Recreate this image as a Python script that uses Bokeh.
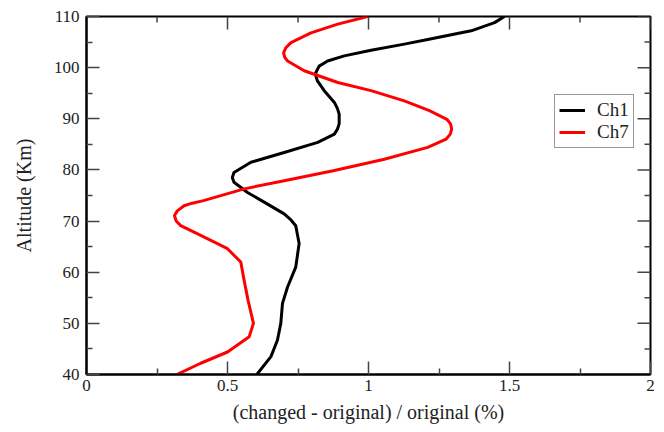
import math
from bokeh.plotting import figure
from bokeh.models import FixedTicker, Legend, LegendItem, Range1d
from bokeh.embed import file_html
from bokeh.resources import INLINE

ch1_alt = [40.0, 43.5, 46.7, 50.0, 53.9, 57.1, 61.0, 65.6, 69.1, 70.4, 71.4, 73.7, 75.6, 77.6,
           78.5, 79.5, 81.5, 83.4, 85.4, 87.0, 88.0, 89.0, 90.9, 92.0, 93.2, 95.5, 97.4, 98.2,
           99.0, 100.3, 101.3, 102.3, 103.4, 104.6, 105.5, 107.2, 108.8, 110.0]
ch1_val = [0.604, 0.654, 0.677, 0.689, 0.695, 0.713, 0.742, 0.754, 0.742, 0.722, 0.701, 0.630,
           0.571, 0.523, 0.517, 0.523, 0.583, 0.701, 0.820, 0.879, 0.890, 0.896, 0.896, 0.890,
           0.879, 0.843, 0.819, 0.814, 0.813, 0.825, 0.855, 0.914, 1.009, 1.127, 1.210, 1.364,
           1.447, 1.482]

ch7_alt = [40.0, 42.2, 44.4, 47.4, 50.0, 54.5, 58.4, 62.0, 64.6, 67.2, 69.1, 70.0, 71.1, 72.0,
           73.0, 73.5, 74.0, 76.3, 77.9, 79.9, 82.1, 84.4, 86.0, 87.0, 88.0, 89.0, 89.9, 91.6,
           93.5, 95.5, 97.1, 99.4, 101.3, 102.0, 102.9, 103.9, 104.9, 106.8, 108.5, 110.0]
ch7_val = [0.320, 0.405, 0.500, 0.577, 0.592, 0.573, 0.559, 0.547, 0.500, 0.405, 0.334, 0.318,
           0.312, 0.322, 0.346, 0.375, 0.415, 0.559, 0.701, 0.879, 1.056, 1.210, 1.275, 1.290,
           1.295, 1.291, 1.278, 1.216, 1.127, 1.009, 0.891, 0.772, 0.713, 0.703, 0.699, 0.707,
           0.725, 0.796, 0.891, 0.997]

x_ticks = [0, 0.5, 1, 1.5, 2]
x_minor = [0.25, 0.75, 1.25, 1.75]
y_ticks = [40, 50, 60, 70, 80, 90, 100, 110]
y_minor = [45, 55, 65, 75, 85, 95, 105]

FONT = "Liberation Serif"
TICK_COLOR = "#444444"

p = figure(width=664, height=432, output_backend="svg", toolbar_location=None,
           x_range=Range1d(0, 2), y_range=Range1d(40, 110),
           min_border_left=86, min_border_right=14, min_border_top=16, min_border_bottom=58,
           x_axis_label="(changed - original) / original (%)", y_axis_label="Altitude (Km)")
p.grid.visible = False
p.outline_line_color = "black"
p.outline_line_width = 2
p.background_fill_color = "white"
p.border_fill_color = "white"


def style(ax):
    ax.axis_line_width = 2
    ax.axis_line_color = "black"
    ax.major_tick_in = 13
    ax.major_tick_out = 0
    ax.minor_tick_in = 6
    ax.minor_tick_out = 0
    ax.major_tick_line_color = TICK_COLOR
    ax.minor_tick_line_color = TICK_COLOR
    ax.major_tick_line_width = 1.5
    ax.minor_tick_line_width = 1.5
    ax.major_label_text_font = FONT
    ax.major_label_text_font_size = "17px"
    ax.major_label_text_color = "#222222"
    ax.axis_label_text_font = FONT
    ax.axis_label_text_font_size = "20px"
    ax.axis_label_text_font_style = "normal"
    ax.axis_label_text_color = "#222222"


p.xaxis[0].ticker = FixedTicker(ticks=x_ticks, minor_ticks=x_minor)
p.yaxis[0].ticker = FixedTicker(ticks=y_ticks, minor_ticks=y_minor)
p.xaxis[0].major_label_overrides = {0: "0", 0.5: "0.5", 1: "1", 1.5: "1.5", 2: "2"}
style(p.xaxis[0])
style(p.yaxis[0])
p.xaxis[0].major_label_standoff = 5
p.xaxis[0].axis_label_standoff = 7
p.yaxis[0].major_label_standoff = 7
p.yaxis[0].axis_label_standoff = 16

# inward ticks on the top and right frame edges
xmax = p.x_range.end
ymax = p.y_range.end
p.ray(x=x_ticks, y=[ymax] * len(x_ticks), length=13, length_units="screen",
      angle=-math.pi / 2, line_color=TICK_COLOR, line_width=1.5)
p.ray(x=x_minor, y=[ymax] * len(x_minor), length=6, length_units="screen",
      angle=-math.pi / 2, line_color=TICK_COLOR, line_width=1.5)
p.ray(x=[xmax] * len(y_ticks), y=y_ticks, length=13, length_units="screen",
      angle=math.pi, line_color=TICK_COLOR, line_width=1.5)
p.ray(x=[xmax] * len(y_minor), y=y_minor, length=6, length_units="screen",
      angle=math.pi, line_color=TICK_COLOR, line_width=1.5)

r1 = p.line(ch1_val, ch1_alt, line_color="black", line_width=3, line_join="round")
r7 = p.line(ch7_val, ch7_alt, line_color="#ff0000", line_width=3, line_join="round")

legend = Legend(items=[LegendItem(label="Ch1", renderers=[r1]),
                       LegendItem(label="Ch7", renderers=[r7])],
                location=(468, 226))
legend.label_text_font = FONT
legend.label_text_font_size = "19px"
legend.label_text_color = "#222222"
legend.border_line_color = "#333333"
legend.border_line_width = 1
legend.background_fill_alpha = 1
legend.glyph_width = 26
legend.glyph_height = 18
legend.label_height = 18
legend.spacing = 0
legend.padding = 4
legend.margin = 0
legend.label_standoff = 12
p.add_layout(legend, "center")

open("out.html", "w").write(file_html(p, INLINE))
